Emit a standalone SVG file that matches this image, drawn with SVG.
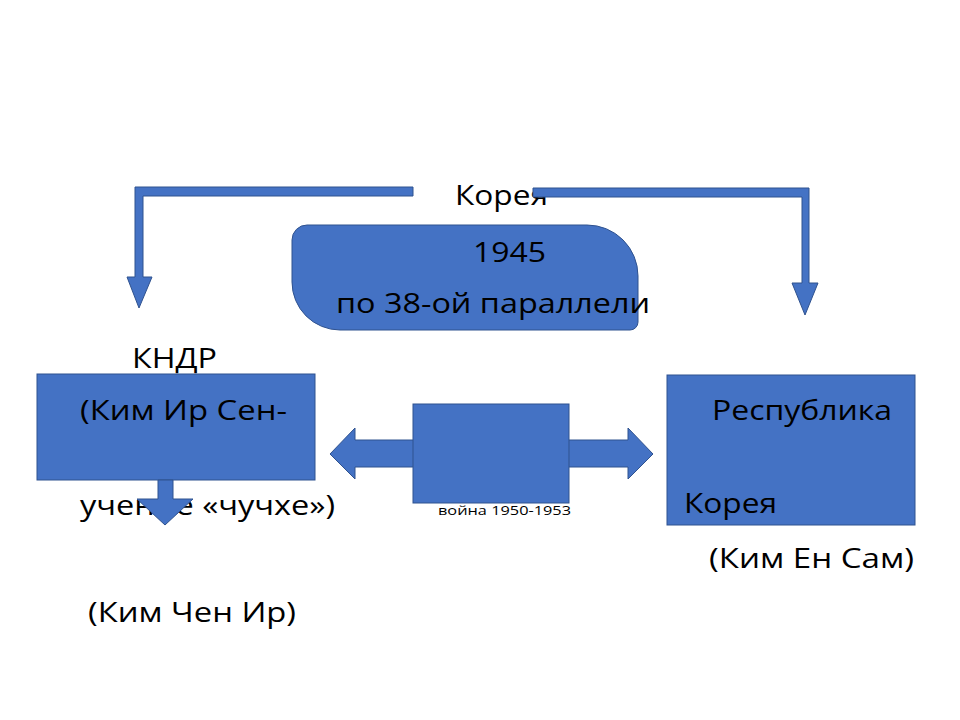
<svg xmlns="http://www.w3.org/2000/svg" width="960" height="720" viewBox="0 0 960 720">
<style>
.shape{fill:#4472C4;stroke:#2F528F;stroke-width:1}
.t{font-family:"Open Sans","Liberation Sans",sans-serif;font-size:28px;fill:#000}
.s{font-family:"Open Sans","Liberation Sans",sans-serif;font-size:13px;fill:#000}
</style>
<rect width="960" height="720" fill="#fff"/>
<g id="korea">
<text class="t" x="455" y="205" textLength="93" lengthAdjust="spacingAndGlyphs">Корея</text>
</g>
<g id="split-1945">
<path class="shape" d="M307,225 H587 A51,51 0 0 1 638,276 V322 A8,8 0 0 1 630,330 H340 A48,48 0 0 1 292,282 V240 A15,15 0 0 1 307,225 Z"/>
<text class="t" x="473" y="262" textLength="73" lengthAdjust="spacingAndGlyphs">1945</text>
<text class="t" x="336" y="313" textLength="314" lengthAdjust="spacingAndGlyphs">по 38-ой параллели</text>
</g>
<g id="kndr">
<text class="t" x="132" y="368" textLength="85" lengthAdjust="spacingAndGlyphs">КНДР</text>
<rect class="shape" x="37" y="374" width="278" height="106"/>
<text class="t" x="80" y="420" textLength="207" lengthAdjust="spacingAndGlyphs">(Ким Ир Сен-</text>
<text class="t" x="80" y="515" textLength="255" lengthAdjust="spacingAndGlyphs">учение «чучхе»)</text>
</g>
<g id="kim-chen-ir">
<text class="t" x="88" y="622" textLength="208" lengthAdjust="spacingAndGlyphs">(Ким Чен Ир)</text>
</g>
<g id="war">
<path class="shape" d="M330,454 L355,428 V440 H628 V428 L653,454 L628,479 V467 H355 V479 Z"/>
<rect class="shape" x="413" y="404" width="156" height="99"/>
<text class="s" x="438" y="515" textLength="133" lengthAdjust="spacingAndGlyphs">война 1950-1953</text>
</g>
<g id="republic">
<rect class="shape" x="667" y="375" width="248" height="150"/>
<text class="t" x="712" y="420" textLength="180" lengthAdjust="spacingAndGlyphs">Республика</text>
<text class="t" x="684" y="513" textLength="93" lengthAdjust="spacingAndGlyphs">Корея</text>
<text class="t" x="709" y="568" textLength="205" lengthAdjust="spacingAndGlyphs">(Ким Ен Сам)</text>
</g>
<g id="connectors">
<path class="shape" d="M413,187 H135 V277 H127 L139,308 L152,277 H143 V196 H413 Z"/>
<path class="shape" d="M533,188 H809 V283 H818 L805,315 L792,283 H802 V197 H533 Z"/>
<path class="shape" d="M158,480 H173 V499 H193 L165,525 L137,499 H158 Z"/>
</g>
</svg>
